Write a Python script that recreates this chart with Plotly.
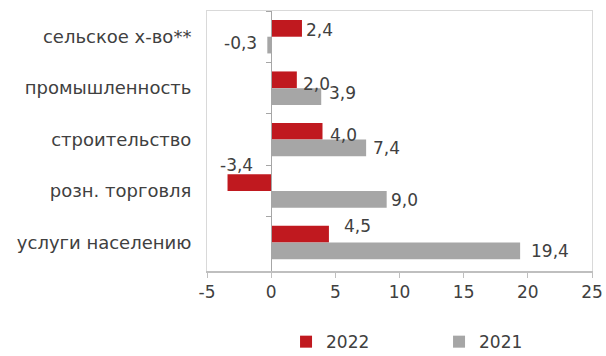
import plotly.graph_objects as go

# Sectors, top to bottom
categories = ["сельское х-во**", "промышленность", "строительство",
              "розн. торговля", "услуги населению"]
values_2022 = [2.4, 2.0, 4.0, -3.4, 4.5]
values_2021 = [-0.3, 3.9, 7.4, 9.0, 19.4]
x_ticks = [-5, 0, 5, 10, 15, 20, 25]

RED = "#C0191F"
GRAY = "#A6A6A6"
TEXT = "#404040"
FONT = "DejaVu Sans"
FS = 17
FS_CAT = 18

# Label nudges in pixels (dx, dy) for each bar, same order as the data
nudge_2022 = [(2, -2), (4, -4), (5, -4), (9, 18), (13, 8)]
nudge_2021 = [(-8, 2), (6, 4), (5, 0), (2, 0), (9, 0)]


def fmt(v):
    return f"{v:.1f}".replace(".", ",")


fig = go.Figure()
fig.add_trace(go.Bar(name="2022", y=categories, x=values_2022, orientation="h",
                     marker=dict(color=RED, line=dict(width=0))))
fig.add_trace(go.Bar(name="2021", y=categories, x=values_2021, orientation="h",
                     marker=dict(color=GRAY, line=dict(width=0))))

annotations = []
for vals, nudges, base in ((values_2022, nudge_2022, 8.5), (values_2021, nudge_2021, -8.5)):
    for cat, v, (dx, dy) in zip(categories, vals, nudges):
        if v >= 0:
            anchor = "left"
        elif dy > 8:
            anchor = "center"
        else:
            anchor = "right"
        annotations.append(dict(
            x=v, y=cat, xref="x", yref="y", text=fmt(v), showarrow=False,
            xanchor=anchor, yanchor="middle", xshift=dx, yshift=base + dy,
            font=dict(family=FONT, size=FS, color=TEXT)))

xmin, xmax = x_ticks[0], x_ticks[-1]

fig.update_layout(
    width=606, height=356,
    margin=dict(l=207, r=14, t=11, b=85, autoexpand=False),
    paper_bgcolor="white", plot_bgcolor="white",
    barmode="group", bargap=0.35, bargroupgap=0,
    font=dict(family=FONT, size=FS, color=TEXT),
    showlegend=True,
    legend=dict(orientation="h", xref="container", yref="container",
                x=0.472, xanchor="left", y=0.039, yanchor="middle",
                font=dict(family=FONT, size=FS, color=TEXT),
                itemwidth=30, traceorder="normal", entrywidth=108),
    annotations=annotations,
    xaxis=dict(range=[xmin, xmax], tickvals=x_ticks, ticktext=[str(t) for t in x_ticks],
               showgrid=False, zeroline=False, automargin=False,
               showline=True, linecolor="#BFBFBF", linewidth=2, mirror=False,
               ticks="outside", ticklen=5, tickcolor="#BFBFBF", tickwidth=1,
               tickfont=dict(family=FONT, size=FS, color=TEXT)),
    xaxis2=dict(overlaying="x", range=[xmin, xmax], showticklabels=False,
                showgrid=False, zeroline=False, showline=True, linecolor="#D9D9D9",
                linewidth=1, side="top", ticks="", automargin=False),
    yaxis=dict(type="category", categoryarray=categories, autorange="reversed",
               showgrid=False, zeroline=False, showline=True, linecolor="#D9D9D9",
               linewidth=1, mirror=True, ticks="", ticklabelstandoff=11,
               automargin=False,
               tickfont=dict(family=FONT, size=FS_CAT, color=TEXT)),
    # category axis drawn along x = 0, ticks on category boundaries
    yaxis2=dict(matches="y", overlaying="y", anchor="free",
                position=(0 - xmin) / (xmax - xmin),
                type="category", categoryarray=categories, autorange="reversed",
                showticklabels=False, showgrid=False, zeroline=False,
                showline=True, linecolor="#A6A6A6", linewidth=1,
                ticks="outside", ticklen=5, tickcolor="#A6A6A6",
                tickson="boundaries", automargin=False),
)

# invisible trace so the secondary axes are drawn
fig.add_trace(go.Scatter(x=[None], y=categories, xaxis="x2", yaxis="y2",
                         mode="markers", showlegend=False, hoverinfo="skip"))

fig.write_html("out.html")
